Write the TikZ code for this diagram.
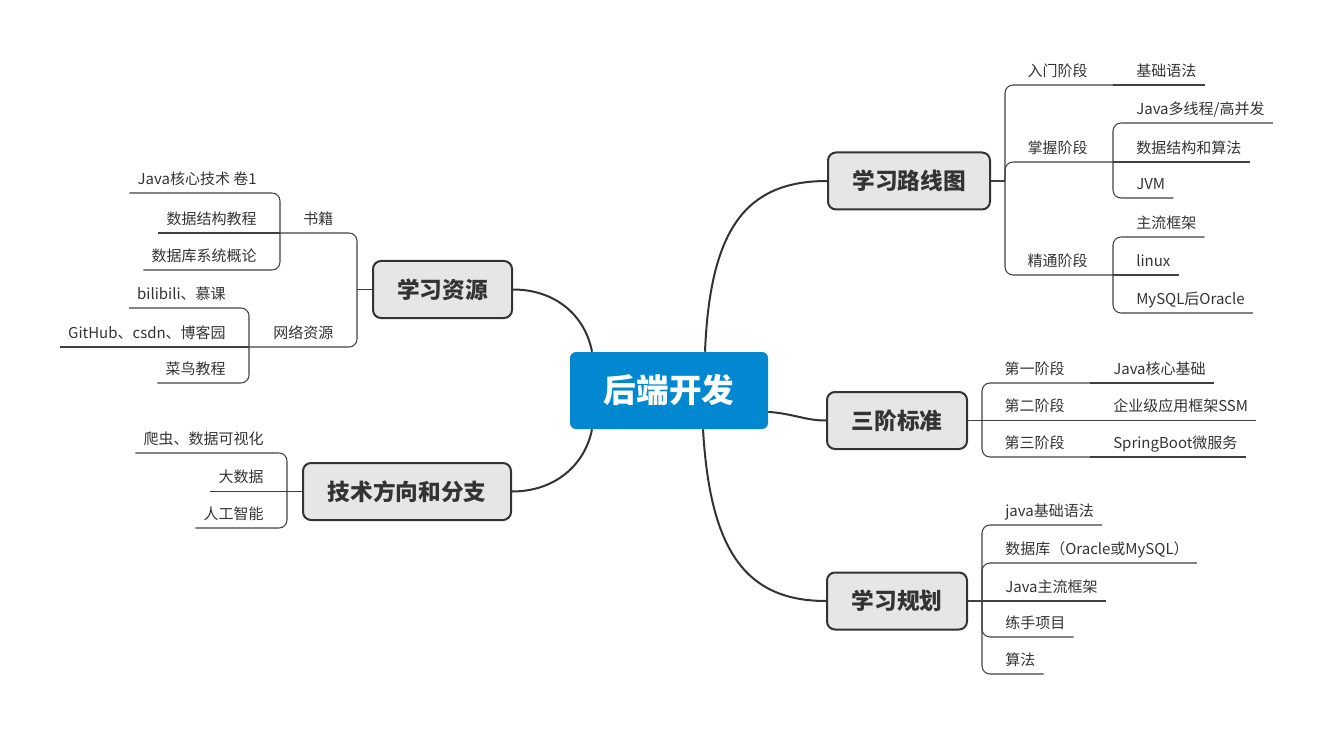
\documentclass[tikz,border=0pt]{standalone}
\usepackage{fontspec}
\setmainfont{Noto Sans CJK SC}
\definecolor{ink}{HTML}{333333}
\definecolor{lnk}{HTML}{404040}
\definecolor{topicfill}{HTML}{E6E6E6}
\definecolor{rootblue}{HTML}{0288D1}
\tikzset{
 leafbase/.style={inner xsep=0pt, inner ysep=3.7pt, text height=9pt, text depth=2.5pt, font=\fontsize{11.25pt}{13pt}\selectfont, text=ink},
 rleaf/.style={leafbase, anchor=south west, execute at begin node={\hspace*{17.25pt}}, execute at end node={\hspace*{6pt}}},
 lleaf/.style={leafbase, anchor=south east, execute at begin node={\hspace*{6pt}}, execute at end node={\hspace*{17.25pt}}},
 rstage/.style={leafbase, anchor=south east, text width=63.75pt, align=left},
 lstage/.style={leafbase, anchor=south west, align=right},
 topic/.style={draw=ink, line width=1.5pt, fill=topicfill, rounded corners=6pt, text=ink, font=\bfseries\fontsize{17pt}{20pt}\selectfont, minimum height=42.75pt, inner sep=0pt},
 root/.style={fill=rootblue, rounded corners=4.5pt, text=white, font=\bfseries\fontsize{24.5pt}{28pt}\selectfont, minimum width=148.5pt, minimum height=57.75pt, inner sep=0pt},
 mainline/.style={draw=ink, line width=1.5pt},
 subline/.style={draw=lnk, line width=0.8pt, rounded corners=6pt},
}
\begin{document}
\begin{tikzpicture}[x=0.75pt,y=-0.75pt]
\useasboundingbox (0,0) rectangle (1334,734);
% central and topics
\node[root] (c) at (669,390.5) {后端开发};
\node[topic, minimum width=121.5pt] (t1) at (909,181) {学习路线图};
\node[topic, minimum width=105pt] (t2) at (897,420.5) {三阶标准};
\node[topic, minimum width=105pt] (t3) at (897,601) {学习规划};
\node[topic, minimum width=104.25pt] (t4) at (442.5,289.5) {学习资源};
\node[topic, minimum width=156pt] (t5) at (407,491.5) {技术方向和分支};
% main curves
\draw[mainline] ([xshift=27pt]c.north) .. controls (710,230) and (745,181) .. (t1.west);
\draw[mainline] ([yshift=-16pt]c.east) .. controls (795,414) and (805,420.5) .. (t2.west);
\draw[mainline] ([xshift=25.5pt]c.south) .. controls (710,550) and (745,601) .. (t3.west);
\draw[mainline] ([xshift=-57.75pt]c.north) .. controls (585,315) and (555,289.5) .. (t4.east);
\draw[mainline] ([xshift=-57.75pt]c.south) .. controls (585,465) and (555,491.5) .. (t5.east);
% ---- 学习路线图
\coordinate (j1) at (1005,181);
\draw[subline] (t1.east) -- (j1);
\node[rstage] (s11) at (1113,85) {入门阶段};
\node[rstage] (s12) at (1113,162) {掌握阶段};
\node[rstage] (s13) at (1113,275) {精通阶段};
\draw[subline] (j1) |- (s11.south east);
\draw[subline] (j1) |- (s12.south east);
\draw[subline] (j1) |- (s13.south east);
\node[rleaf] (a11) at (1113,85) {基础语法};
\draw[subline] (s11.south east) -- (a11.south east);
\node[rleaf] (a121) at (1113,123) {Java多线程/高并发};
\node[rleaf] (a122) at (1113,162) {数据结构和算法};
\node[rleaf] (a123) at (1113,198) {JVM};
\draw[subline] (s12.south east) |- (a121.south east);
\draw[subline] (s12.south east) -- (a122.south east);
\draw[subline] (s12.south east) |- (a123.south east);
\node[rleaf] (a131) at (1113,237) {主流框架};
\node[rleaf] (a132) at (1113,275) {linux};
\node[rleaf] (a133) at (1113,313) {MySQL后Oracle};
\draw[subline] (s13.south east) |- (a131.south east);
\draw[subline] (s13.south east) -- (a132.south east);
\draw[subline] (s13.south east) |- (a133.south east);
% ---- 三阶标准
\coordinate (j2) at (982,420.5);
\draw[subline] (t2.east) -- (j2);
\node[rstage] (s21) at (1090,383) {第一阶段};
\node[rstage] (s22) at (1090,420.5) {第二阶段};
\node[rstage] (s23) at (1090,457) {第三阶段};
\draw[subline] (j2) |- (s21.south east);
\draw[subline] (j2) -- (s22.south east);
\draw[subline] (j2) |- (s23.south east);
\node[rleaf] (a21) at (1090,383) {Java核心基础};
\node[rleaf] (a22) at (1090,420.5) {企业级应用框架SSM};
\node[rleaf] (a23) at (1090,457) {SpringBoot微服务};
\draw[subline] (s21.south east) -- (a21.south east);
\draw[subline] (s22.south east) -- (a22.south east);
\draw[subline] (s23.south east) -- (a23.south east);
% ---- 学习规划
\coordinate (j3) at (982,601);
\draw[subline] (t3.east) -- (j3);
\node[rleaf] (a31) at (982,525) {java基础语法};
\node[rleaf] (a32) at (982,563) {数据库（Oracle或MySQL）};
\node[rleaf] (a33) at (982,601) {Java主流框架};
\node[rleaf] (a34) at (982,637) {练手项目};
\node[rleaf] (a35) at (982,674) {算法};
\draw[subline] (j3) |- (a31.south east);
\draw[subline] (j3) |- (a32.south east);
\draw[subline] (j3) -- (a33.south east);
\draw[subline] (j3) |- (a34.south east);
\draw[subline] (j3) |- (a35.south east);
% ---- 学习资源
\coordinate (j4) at (357,289.5);
\draw[subline] (t4.west) -- (j4);
\node[lstage, text width=39.75pt] (s41) at (280,233) {书籍};
\node[lstage, text width=63pt] (s42) at (249,347) {网络资源};
\draw[subline] (j4) |- (s41.south west);
\draw[subline] (j4) |- (s42.south west);
\node[lleaf] (b11) at (280,193) {Java核心技术 卷1};
\node[lleaf] (b12) at (280,233) {数据结构教程};
\node[lleaf] (b13) at (280,270) {数据库系统概论};
\draw[subline] (s41.south west) |- (b11.south west);
\draw[subline] (s41.south west) -- (b12.south west);
\draw[subline] (s41.south west) |- (b13.south west);
\node[lleaf] (b21) at (249,308) {bilibili、慕课};
\node[lleaf] (b22) at (249,347) {GitHub、csdn、博客园};
\node[lleaf] (b23) at (249,383) {菜鸟教程};
\draw[subline] (s42.south west) |- (b21.south west);
\draw[subline] (s42.south west) -- (b22.south west);
\draw[subline] (s42.south west) |- (b23.south west);
% ---- 技术方向和分支
\coordinate (j5) at (287,491.5);
\draw[subline] (t5.west) -- (j5);
\node[lleaf] (d1) at (287,453) {爬虫、数据可视化};
\node[lleaf] (d2) at (287,491.5) {大数据};
\node[lleaf] (d3) at (287,528) {人工智能};
\draw[subline] (j5) |- (d1.south west);
\draw[subline] (j5) -- (d2.south west);
\draw[subline] (j5) |- (d3.south west);
\end{tikzpicture}
\end{document}
